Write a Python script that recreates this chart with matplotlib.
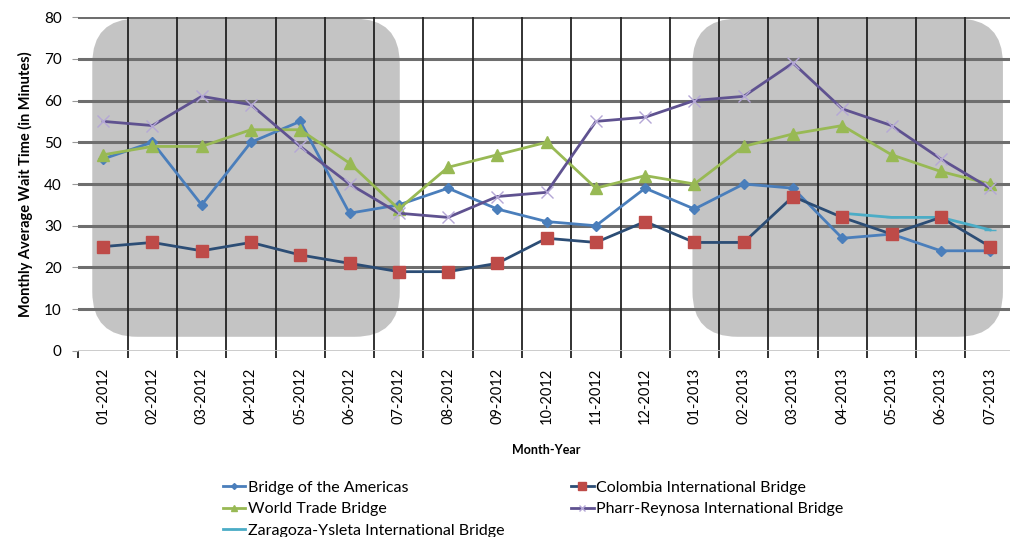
import numpy as np
import matplotlib.pyplot as plt
from matplotlib.patches import FancyBboxPatch
from matplotlib.transforms import IdentityTransform

months = ["01-2012", "02-2012", "03-2012", "04-2012", "05-2012", "06-2012",
          "07-2012", "08-2012", "09-2012", "10-2012", "11-2012", "12-2012",
          "01-2013", "02-2013", "03-2013", "04-2013", "05-2013", "06-2013",
          "07-2013"]

americas = [46, 50, 35, 50, 55, 33, 35, 39, 34, 31, 30, 39, 34, 40, 39, 27, 28, 24, 24]
colombia = [25, 26, 24, 26, 23, 21, 19, 19, 21, 27, 26, 31, 26, 26, 37, 32, 28, 32, 25]
world_trade = [47, 49, 49, 53, 53, 45, 34, 44, 47, 50, 39, 42, 40, 49, 52, 54, 47, 43, 40]
pharr = [55, 54, 61, 59, 49, 40, 33, 32, 37, 38, 55, 56, 60, 61, 69, 58, 54, 46, 39]
zaragoza_months = ["04-2013", "05-2013", "06-2013", "07-2013"]
zaragoza = [33, 32, 32, 29]

# shaded periods: first month, last month, and how far the box reaches past them
periods = [("01-2012", "07-2012", 0.22, 0.02), ("01-2013", "07-2013", 0.04, 0.26)]

plt.rcParams['font.family'] = ['Lato', 'DejaVu Sans']

fig = plt.figure(figsize=(10.10, 5.37), dpi=100)
ax = fig.add_axes([0.0777, 0.3464, 0.927, 0.6219])

x = np.arange(len(months))
ax.set_xlim(-0.5, len(months) - 0.5)
ax.set_ylim(0, 80)

ax.plot(x, americas, color='#4A7EBB', lw=2, marker='D', ms=5,
        mfc='#4A7EBB', mec='#4A7EBB', label='Bridge of the Americas', zorder=5)
ax.plot(x, colombia, color='#2C4D75', lw=2, marker='s', ms=9,
        mfc='#BE4B48', mec='#BE4B48', label='Colombia International Bridge', zorder=6)
ax.plot(x, world_trade, color='#98B954', lw=2, marker='^', ms=8,
        mfc='#98B954', mec='#98B954', label='World Trade Bridge', zorder=5)
ax.plot(x, pharr, color='#5F5290', lw=2, marker='x', ms=8,
        mec='#B4A7D6', mew=1, label='Pharr-Reynosa International Bridge', zorder=5)
zx = [months.index(m) for m in zaragoza_months]
ax.plot(zx, zaragoza, color='#4BACC6', lw=2, marker='_', ms=8,
        label='Zaragoza-Ysleta International Bridge', zorder=5)

# grid
ax.set_yticks(np.arange(0, 81, 10))
ax.set_xticks(x)
ax.set_xticks(np.arange(-0.5, len(months)), minor=True)
ax.set_xticklabels(months, rotation=90, fontsize=10.5)
ax.tick_params(axis='x', which='major', length=0, pad=12)
ax.tick_params(axis='x', which='minor', length=5, color='#222222', width=1.3)
ax.tick_params(axis='y', length=4, color='#999999', labelsize=11, pad=8)
for yv in np.arange(10, 81, 10):
    ax.axhline(yv, color='#6E6E6E', lw=2.2, zorder=2)
for xv in np.arange(0.5, len(months) - 0.5):
    ax.axvline(xv, color='#222222', lw=1.3, zorder=2)
ax.axhline(0, color='#C8C8C8', lw=2, zorder=2)
for s in ax.spines.values():
    s.set_visible(False)

ax.set_ylabel('Monthly Average Wait Time (in Minutes)', fontsize=10.5,
              fontweight='bold', labelpad=8)
ax.set_xlabel('Month-Year', fontsize=9, fontweight='bold', labelpad=14)

# rounded gray boxes behind the grid
fig.canvas.draw()
for a, b, pad_l, pad_r in periods:
    i0, i1 = months.index(a), months.index(b)
    (px0, py0) = ax.transData.transform((i0 - pad_l, 3.4))
    (px1, py1) = ax.transData.transform((i1 + pad_r, 79.6))
    box = FancyBboxPatch((px0, py0), px1 - px0, py1 - py0,
                         boxstyle='round,pad=0,rounding_size=45',
                         transform=IdentityTransform(), facecolor='#C4C4C4',
                         edgecolor='none', zorder=1)
    ax.add_patch(box)

h, l = ax.get_legend_handles_labels()
order = [0, 2, 4, 1, 3]
fig.legend([h[i] for i in order], [l[i] for i in order], ncol=2,
           loc='upper left', bbox_to_anchor=(0.2128, 0.1195), frameon=False,
           fontsize=11.5, handlelength=1.4, handletextpad=0.15,
           columnspacing=4.2, labelspacing=0.45, borderpad=0, markerscale=0.6)

fig.savefig('out.png', dpi=100)
